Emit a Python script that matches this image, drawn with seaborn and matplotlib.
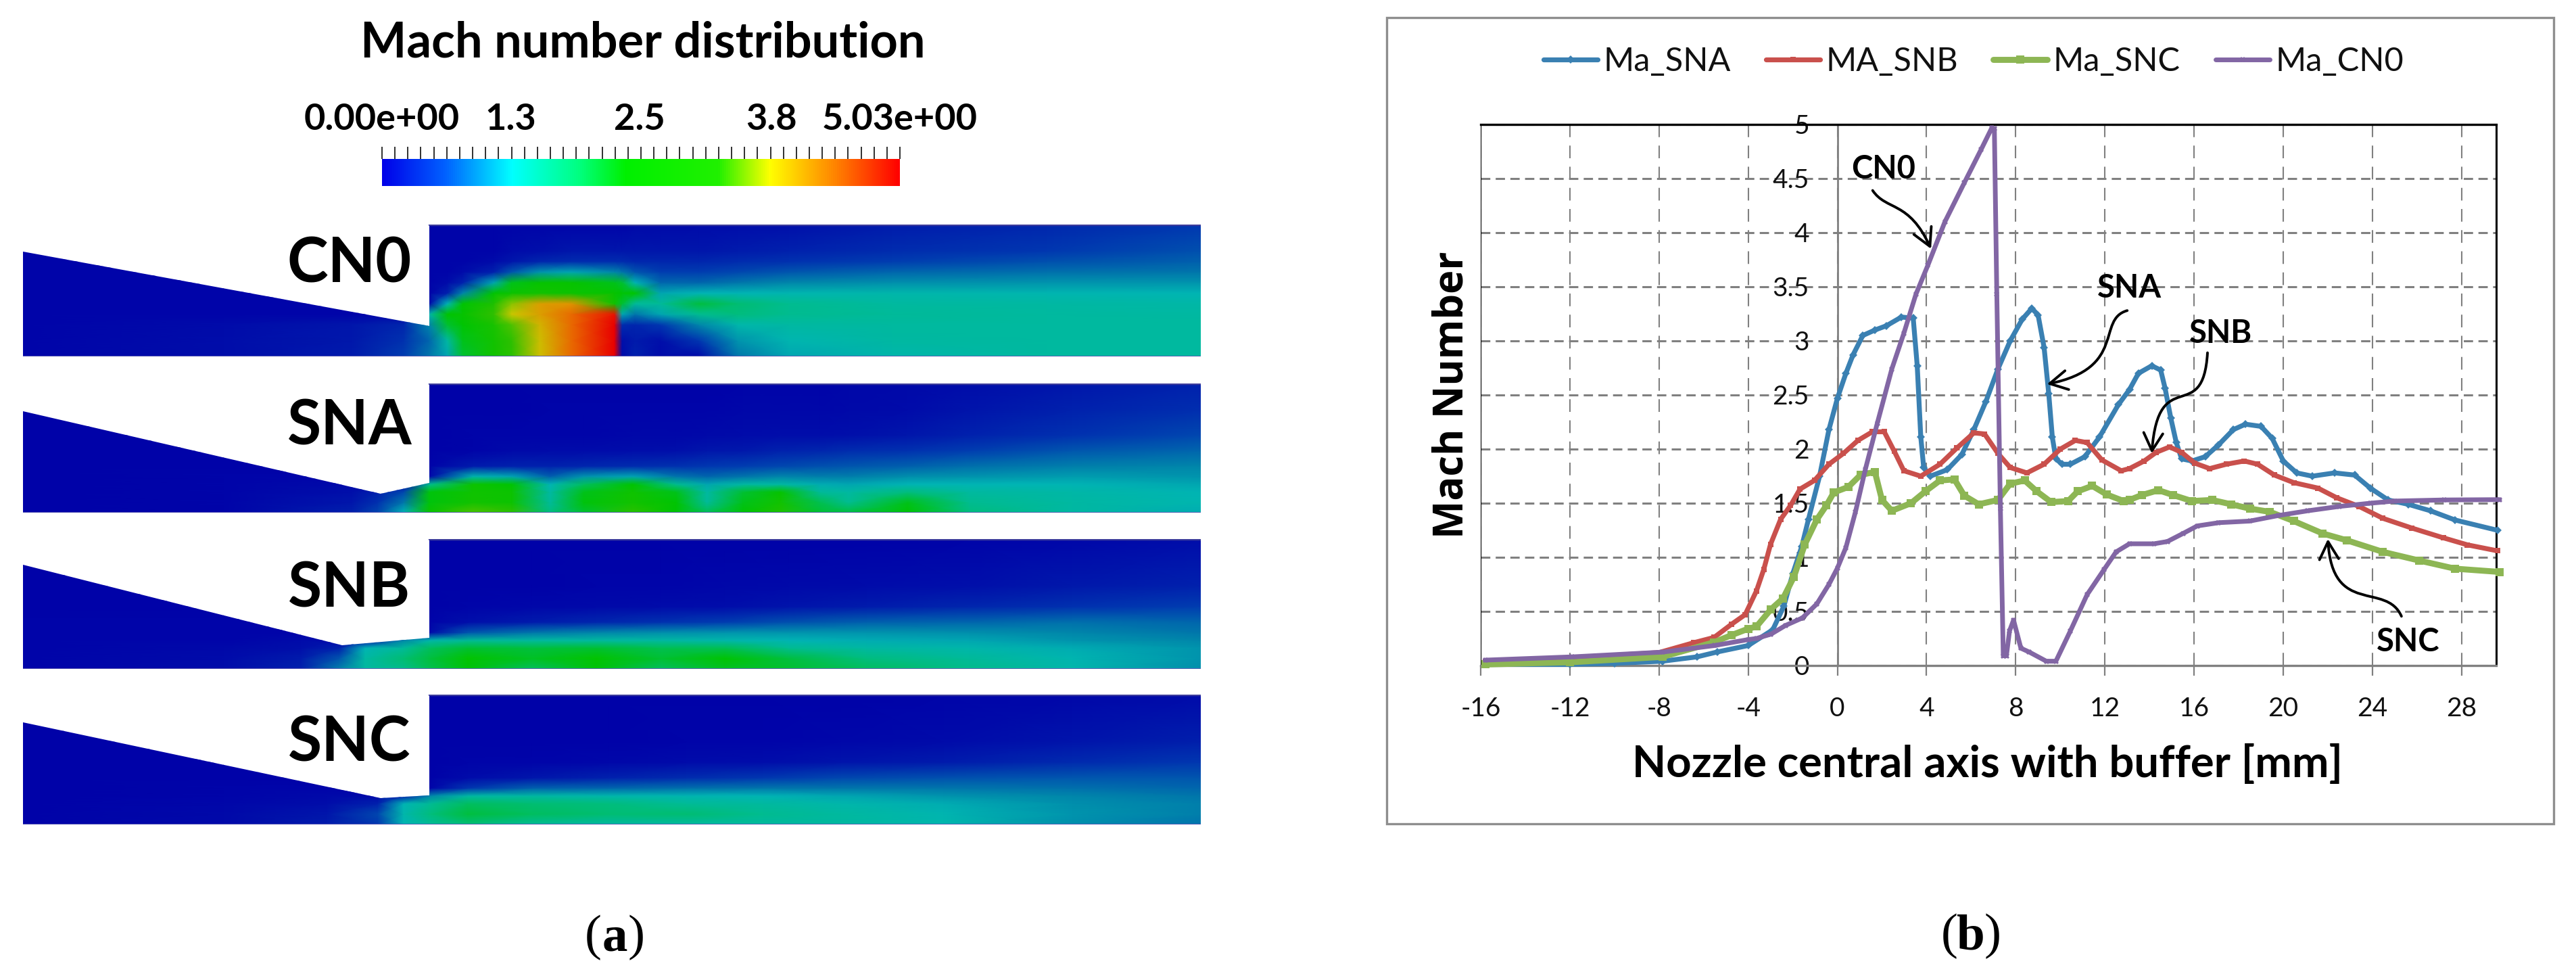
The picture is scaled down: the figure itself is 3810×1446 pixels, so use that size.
#!/usr/bin/env python3
# -*- coding: utf-8 -*-
# Mach number contours (a) and centre line Mach number curves (b)
import numpy as np
import matplotlib
matplotlib.use('Agg')
import matplotlib.pyplot as plt
import seaborn as sns
from matplotlib.colors import LinearSegmentedColormap
from matplotlib.patches import FancyArrowPatch, Polygon, Rectangle
from matplotlib.path import Path

W, H = 3810, 1446

# ---- curves of panel (b)
sna_x = [-15.8, -12, -10, -7.85, -6.3, -5.4, -4, -2.9, -2.4, -2, -1.6, -1.3, -0.8, -0.38, 0, 0.38, 0.7, 1.14, 1.68,
         2.2, 2.87, 3.4, 3.58, 3.74, 3.87, 4.17, 4.93, 5.58, 6.12, 6.66, 7.2, 7.75, 8.29, 8.72, 9, 9.27, 9.48,
         9.64, 9.8, 10.08, 10.45, 11.1, 11.75, 12.6, 13.1, 13.5, 14.1, 14.5, 14.7, 14.95, 15.2, 15.44, 15.9, 16.5,
         17.1, 17.76, 18.3, 19, 19.5, 20, 20.6, 21.3, 22.3, 23.2, 23.9, 24.7, 25.6, 26.6, 27.7, 29.6]
sna_y = [0.01, 0.01, 0.02, 0.04, 0.08, 0.125, 0.185, 0.33, 0.55, 0.85, 1.1, 1.35, 1.75, 2.18, 2.47, 2.7, 2.87, 3.05,
         3.1, 3.14, 3.22, 3.21, 2.77, 2.11, 1.83, 1.75, 1.81, 1.95, 2.18, 2.44, 2.74, 3.0, 3.2, 3.3, 3.24, 2.94, 2.51,
         2.11, 1.91, 1.86, 1.86, 1.93, 2.11, 2.41, 2.55, 2.7, 2.77, 2.73, 2.56, 2.29, 2.06, 1.91, 1.89, 1.93,
         2.04, 2.18, 2.23, 2.21, 2.1, 1.89, 1.78, 1.75, 1.78, 1.76, 1.64, 1.53, 1.49, 1.43, 1.345, 1.25]

snb_x = [-15.8, -12, -8, -6.46, -5.53, -4.76, -4.14, -3.63, -3.3, -3, -2.55, -2.1, -1.68, -1.03, -0.38, 0.27, 0.92,
         1.57, 2.1, 2.55, 2.98, 3.74, 4.6, 5.36, 6.12, 6.6, 7.2, 7.75, 8.5, 9.27, 10, 10.67, 11.2, 11.86, 12.73, 13.1,
         13.76, 14.3, 14.9, 15.44, 16.03, 16.7, 17.44, 18.25, 18.85, 19.6, 20.47, 21.55, 22.4, 23.4, 24.47, 25.77,
         27.18, 28.26, 29.6]
snb_y = [0.04, 0.07, 0.12, 0.21, 0.26, 0.38, 0.47, 0.69, 0.89, 1.12, 1.35, 1.48, 1.63, 1.71, 1.86, 1.96, 2.08,
         2.16, 2.16, 1.98, 1.8, 1.75, 1.86, 2.01, 2.15, 2.14, 1.96, 1.83, 1.78, 1.86, 2.0, 2.08, 2.06, 1.9, 1.8, 1.82,
         1.89, 1.97, 2.02, 1.97, 1.87, 1.82, 1.86, 1.89, 1.86, 1.76, 1.69, 1.64, 1.55, 1.47, 1.36, 1.27,
         1.18, 1.115, 1.06]

snc_x = [-15.8, -12, -7.85, -5.53, -4.76, -4, -3.63, -2.98, -2.44, -1.95, -1.46, -0.92, -0.49, -0.16, 0.49, 1.03,
         1.68, 2, 2.44, 3.3, 3.95, 4.6, 5.25, 5.69, 6.34, 7.2, 7.75, 8.4, 8.94, 9.59, 10.35, 10.78, 11.43, 12.08, 12.84,
         13.1, 13.65, 14.4, 15.06, 15.9, 16.8, 17.66, 18.5, 19.4, 20.47, 21.77, 22.85, 24.47, 26.1, 27.7, 29.7]
snc_y = [0.01, 0.03, 0.08, 0.215, 0.28, 0.34, 0.36, 0.52, 0.62, 0.82, 1.12, 1.35, 1.48, 1.6, 1.65, 1.76,
         1.79, 1.53, 1.43, 1.5, 1.61, 1.71, 1.72, 1.57, 1.49, 1.53, 1.68, 1.71, 1.61, 1.51, 1.52, 1.61, 1.66, 1.58, 1.52,
         1.53, 1.575, 1.62, 1.575, 1.52, 1.53, 1.49, 1.45, 1.42, 1.335, 1.22, 1.157, 1.05, 0.97, 0.895, 0.865]

cn0_x = [-15.8, -11.9, -7.85, -5.5, -4, -3.63, -2.98, -2.33, -1.57, -0.92, -0.38, 0, 0.38, 0.81, 1.25, 1.79, 2.44, 2.98,
         3.52, 4.06, 4.82, 5.69, 6.45, 6.93, 7.04, 7.15, 7.31, 7.44, 7.58, 7.72, 7.9, 8.23, 8.6, 9.37, 9.8, 10.45,
         11.2, 11.97, 12.5, 13.1, 14.2, 14.8, 15.5, 16.14, 17.1, 18.5, 19.8, 21.1, 22.5, 23.9, 25, 27.2, 29.7]
cn0_y = [0.05, 0.08, 0.124, 0.185, 0.24, 0.25, 0.29, 0.37, 0.44, 0.57, 0.75, 0.9, 1.09, 1.42, 1.81, 2.24, 2.74, 3.07,
         3.43, 3.7, 4.1, 4.46, 4.77, 4.97, 4.96, 3.43, 1.45, 0.09, 0.09, 0.32, 0.42, 0.16, 0.125, 0.04, 0.04, 0.32,
         0.655, 0.89, 1.05, 1.125, 1.125, 1.146, 1.22, 1.29, 1.32, 1.335, 1.387, 1.43, 1.47, 1.5, 1.52, 1.53, 1.533]

series_names = ['Ma_SNA', 'MA_SNB', 'Ma_SNC', 'Ma_CN0']
x_ticks = [-16, -12, -8, -4, 0, 4, 8, 12, 16, 20, 24, 28]
y_ticks = [0, 0.5, 1, 1.5, 2, 2.5, 3, 3.5, 4, 4.5, 5]
y_tick_labels = ['0', '0.5', '1', '1.5', '2', '2.5', '3', '3.5', '4', '4.5', '5']

# ---- contour fields of panel (a): axial position [mm], height in the panel, Mach
radius_cn0 = [0, 0.6, 1.2, 1.6, 2, 2.4, 2.8, 3.2, 3.6, 4, 5]
axial_cn0 = [-16, -8, -3, -1, 0, 0.7, 1.3, 2.5, 3.2, 4.3, 5.5, 7.2, 7.5, 8, 9, 10.5, 12, 14, 18, 24, 30]
mach_cn0 = [
    [.05, .12, .25, .55, .9, 1.2, 2.0, 2.5, 2.9, 3.6, 4.3, 4.95, .1, .3, .1, .1, .9, 1.2, 1.4, 1.55, 1.55],
    [.05, .12, .22, .45, .8, 1.5, 2.1, 2.5, 2.95, 3.6, 4.3, 4.9, .15, .25, .15, .5, 1.1, 1.35, 1.5, 1.55, 1.55],
    [.05, .1, .2, .35, 1.0, 2.0, 2.2, 2.6, 3.1, 3.7, 4.3, 4.8, .4, .35, .5, 1.0, 1.4, 1.5, 1.55, 1.55, 1.55],
    [.05, .05, .05, .05, 1.4, 2.2, 2.3, 3.0, 3.5, 3.9, 4.3, 4.7, 1.2, .9, 1.2, 1.7, 1.75, 1.7, 1.6, 1.55, 1.5],
    [.05, .05, .05, .05, .1, 1.3, 2.2, 2.7, 3.3, 3.9, 4.0, 2.5, 2.0, 1.6, 1.6, 1.95, 1.8, 1.7, 1.55, 1.5, 1.45],
    [.05, .05, .05, .05, .05, .3, 1.0, 2.2, 2.4, 2.5, 2.4, 2.3, 2.2, 2.2, 1.2, 1.3, 1.3, 1.35, 1.4, 1.35, 1.3],
    [.05, .05, .05, .05, .05, .1, .3, 1.2, 2.1, 2.3, 2.3, 2.1, 2.0, 1.3, .8, .8, .9, 1.0, 1.05, 1.1, 1.1],
    [.05, .05, .05, .05, .05, .05, .1, .3, .7, 1.1, 1.2, 1.0, .9, .7, .55, .55, .6, .7, .8, .85, .9],
    [.05, .05, .05, .05, .05, .05, .05, .1, .2, .35, .4, .4, .4, .35, .35, .35, .4, .45, .55, .65, .75],
    [.05, .05, .05, .05, .05, .05, .05, .05, .1, .15, .2, .2, .2, .2, .2, .2, .25, .3, .4, .5, .65],
    [.05, .05, .05, .05, .05, .05, .05, .05, .05, .05, .05, .05, .05, .08, .08, .1, .12, .15, .25, .35, .5],
]

radius_sna = [0, 0.4, 0.8, 1.1, 1.4, 1.8, 2.4, 3, 4, 5]
axial_sna = [-16, -8, -3, -2, -1, 0, 1.7, 3.2, 4.7, 6, 7.9, 9.6, 10.8, 12.2, 13.65, 15.2, 16.3, 18.6, 21, 25, 30]
mach_sna = [
    [.02, .05, .3, .6, 1.3, 2.4, 3.1, 3.0, 1.75, 2.0, 2.9, 2.2, 1.9, 2.2, 2.7, 2.0, 1.95, 2.2, 1.75, 1.5, 1.25],
    [.02, .05, .2, .45, .9, 2.15, 2.5, 2.4, 1.6, 2.15, 2.5, 2.2, 1.6, 2.1, 2.5, 1.9, 1.7, 2.1, 1.7, 1.5, 1.35],
    [.02, .05, .15, .3, .6, 2.15, 2.45, 2.4, 1.5, 2.1, 2.45, 2.1, 1.5, 2.0, 2.3, 1.6, 1.5, 1.75, 1.55, 1.45, 1.3],
    [.02, .05, .1, .1, .1, 1.7, 2.4, 2.2, 1.3, 1.85, 2.2, 1.7, 1.2, 1.5, 1.5, 1.25, 1.2, 1.3, 1.3, 1.3, 1.2],
    [.02, .05, .05, .05, .05, .1, 1.4, 1.2, .75, 1.1, 1.2, .9, .8, .9, 1.0, .95, .95, 1.05, 1.1, 1.15, 1.1],
    [.02, .03, .03, .03, .03, .05, .25, .3, .3, .35, .4, .45, .5, .55, .6, .65, .7, .75, .85, .95, 1.0],
    [.02, .03, .03, .03, .03, .03, .05, .08, .1, .1, .12, .15, .2, .22, .3, .35, .4, .45, .55, .7, .8],
    [.02, .03, .03, .03, .03, .03, .04, .05, .05, .05, .06, .07, .08, .1, .12, .13, .15, .2, .3, .45, .6],
    [.02, .03, .03, .03, .03, .03, .03, .03, .04, .04, .04, .05, .05, .06, .07, .07, .08, .1, .18, .3, .42],
    [.02, .03, .03, .03, .03, .03, .03, .03, .03, .03, .03, .03, .03, .04, .05, .05, .06, .08, .12, .2, .3],
]

radius_snb = [0, 0.4, 0.8, 1.1, 1.4, 1.8, 2.4, 3.2, 5]
axial_snb = [-16, -8, -5, -3.5, -2.5, -1, 0, 1.5, 4, 6.5, 9, 11.5, 14, 17, 21, 25, 30]
mach_snb = [
    [.05, .12, .3, .95, 1.5, 1.72, 1.9, 2.15, 1.85, 2.15, 1.85, 2.05, 2.0, 1.85, 1.72, 1.4, 1.05],
    [.05, .1, .25, .7, 1.5, 1.8, 1.95, 2.25, 2.05, 2.25, 2.0, 2.2, 1.95, 1.75, 1.6, 1.35, 1.1],
    [.05, .08, .15, .3, 1.3, 1.6, 1.85, 2.0, 1.95, 2.0, 1.9, 1.9, 1.7, 1.5, 1.4, 1.25, 1.1],
    [.05, .05, .1, .1, .1, 1.0, 1.4, 1.65, 1.55, 1.55, 1.5, 1.4, 1.3, 1.25, 1.2, 1.1, 1.0],
    [.05, .05, .05, .05, .05, .05, .1, .7, .9, 1.0, 1.05, 1.1, 1.1, 1.1, 1.05, 1.0, .9],
    [.05, .05, .05, .05, .05, .05, .05, .15, .25, .35, .45, .55, .65, .75, .8, .85, .8],
    [.03, .03, .03, .03, .03, .03, .03, .05, .06, .08, .1, .13, .18, .25, .35, .45, .55],
    [.03, .03, .03, .03, .03, .03, .03, .03, .03, .04, .05, .06, .08, .1, .15, .22, .3],
    [.03, .03, .03, .03, .03, .03, .03, .03, .03, .03, .03, .03, .03, .03, .04, .06, .12],
]

radius_snc = [0, 0.4, 0.8, 1.1, 1.4, 1.8, 2.4, 3.2, 5]
axial_snc = [-16, -8, -4, -2, -1, 0, 1.5, 4, 7, 10, 13, 16, 20, 25, 30]
mach_snc = [
    [.03, .08, .25, .5, 1.3, 1.6, 1.78, 1.65, 1.5, 1.55, 1.55, 1.52, 1.38, 1.05, .87],
    [.03, .08, .2, .6, 1.4, 1.75, 1.95, 1.85, 1.8, 1.8, 1.7, 1.55, 1.35, 1.1, .95],
    [.03, .06, .12, .3, 1.3, 1.65, 1.85, 1.8, 1.75, 1.65, 1.55, 1.4, 1.25, 1.05, .95],
    [.03, .05, .08, .1, .3, 1.0, 1.5, 1.5, 1.4, 1.35, 1.3, 1.2, 1.1, 1.0, .9],
    [.03, .04, .04, .04, .04, .05, .5, .75, .8, .85, .9, .9, .9, .85, .8],
    [.03, .03, .03, .03, .03, .03, .1, .2, .3, .4, .5, .6, .65, .7, .7],
    [.03, .03, .03, .03, .03, .03, .04, .05, .07, .1, .13, .18, .25, .38, .5],
    [.03, .03, .03, .03, .03, .03, .03, .03, .03, .04, .05, .07, .1, .18, .28],
    [.03, .03, .03, .03, .03, .03, .03, .03, .03, .03, .03, .03, .04, .06, .1],
]

bar_labels = ['0.00e+00', '1.3', '2.5', '3.8', '5.03e+00']
bar_values = [0, 1.25, 2.5, 3.78, 5.03]

sns.set_style('white')
plt.rcParams['font.family'] = ['Lato', 'DejaVu Sans']

fig = plt.figure(figsize=(W / 100, H / 100), dpi=100)


def px_axes(left, top, right, bottom):
    return fig.add_axes([left / W, 1 - bottom / H, (right - left) / W, (bottom - top) / H])


def px_text(x, y, s, **kw):
    kw.setdefault('ha', 'center')
    kw.setdefault('va', 'center')
    return fig.text(x / W, 1 - y / H, s, **kw)


# colours of the contour fields are duller than the legend bar
field_cmap = LinearSegmentedColormap.from_list('field', [
    (0 / 5.03, '#0000a8'), (0.5 / 5.03, '#0038b0'), (1.0 / 5.03, '#0088aa'), (1.3 / 5.03, '#00b4b4'),
    (1.7 / 5.03, '#00bc90'), (2.0 / 5.03, '#00c030'), (2.2 / 5.03, '#00c400'), (3.0 / 5.03, '#30c000'),
    (3.5 / 5.03, '#c8c800'), (4.2 / 5.03, '#e88000'), (4.8 / 5.03, '#e80000'), (1, '#e80000')])
bar_cmap = LinearSegmentedColormap.from_list('bar', [
    (0, '#0000e8'), (0.12, '#0060ff'), (0.25, '#00ffff'), (0.38, '#00ff80'), (0.47, '#00f000'), (0.65, '#20f000'),
    (0.75, '#ffff00'), (0.88, '#ff8000'), (1, '#ff0000')])


def draw_field(ax, axial, radius, mach, wall, name, label_y):
    ax.set_xlim(-15.8, 30)
    ax.set_ylim(0, 5)
    outline = [(-15.8, 0)] + wall + [(0, 5), (30, 5), (30, 0)]
    mesh = ax.pcolormesh(axial, radius, np.array(mach), shading='gouraud', cmap=field_cmap, vmin=0, vmax=5.03,
                         rasterized=True)
    patch = Polygon(outline, closed=True, transform=ax.transData, fill=False, edgecolor='none')
    ax.add_patch(patch)
    mesh.set_clip_path(patch)
    ax.plot([0, 30], [5, 5], color='#3c3c9c', lw=2.5)
    ax.plot([-15.8, 30], [0, 0], color='#5a5ab4', lw=2)
    ax.axis('off')
    px_text(517, label_y, name, fontsize=66, fontweight='bold', color='black')


walls = {
    'CN0': [(-15.8, 3.97), (0, 1.15)],
    'SNA': [(-15.8, 3.92), (-1.9, 0.74), (0, 1.15)],
    'SNB': [(-15.8, 4.0), (-3.4, 0.9), (0, 1.2)],
    'SNC': [(-15.8, 3.94), (-1.9, 1.02), (0, 1.13)],
}
draw_field(px_axes(34, 332, 1776, 527), axial_cn0, radius_cn0, mach_cn0, walls['CN0'], 'CN0', 392)
draw_field(px_axes(34, 567, 1776, 758), axial_sna, radius_sna, mach_sna, walls['SNA'], 'SNA', 632)
draw_field(px_axes(34, 797, 1776, 989), axial_snb, radius_snb, mach_snb, walls['SNB'], 'SNB', 871)
draw_field(px_axes(34, 1027, 1776, 1219), axial_snc, radius_snc, mach_snc, walls['SNC'], 'SNC', 1100)

# legend bar of the contours
bar_ax = px_axes(565, 235, 1331, 275)
sns.heatmap(np.linspace(0, 5.03, 256)[None, :], ax=bar_ax, cmap=bar_cmap, vmin=0, vmax=5.03, cbar=False,
            xticklabels=False, yticklabels=False)
bar_ax.set_xlim(0, 256)
bar_ax.xaxis.tick_top()
bar_ax.set_xticks(np.linspace(0, 256, 41), [''] * 41)
bar_ax.tick_params(axis='x', which='major', length=13, width=1.4, color='#303030', direction='out', top=True,
                   bottom=False)
bar_ax.set_xticks(np.linspace(0, 256, 5)[1:4], minor=True)
bar_ax.tick_params(axis='x', which='minor', length=10, width=1.4, color='#303030', direction='in', top=True,
                   bottom=False)
for name, val in zip(bar_labels, bar_values):
    px_text(565 + val / 5.03 * 766, 177, name, fontsize=39, fontweight='bold', color='black')
px_text(951, 64, 'Mach number distribution', fontsize=52, fontweight='bold', color='black')

# ---- panel (b)
fig.add_artist(Rectangle((2051 / W, 1 - 1218 / H), (3777 - 2051) / W, (1218 - 26) / H, transform=fig.transFigure,
                         fill=False, edgecolor='#8e8e8e', lw=2.4))

ax = px_axes(2190, 184, 3692, 984)
# spine position resets the ticks, so it comes before the tick labels
ax.spines['left'].set_position(('data', 0))
colors = ['#3a80b2', '#c9504c', '#8db654', '#8266a4']
markers = ['D', 's', 's', 'X']
sizes = [6, 6, 8, 6]
widths = [5.2, 5.2, 6.4, 5.0]
curves = [(sna_x, sna_y), (snb_x, snb_y), (snc_x, snc_y), (cn0_x, cn0_y)]
for (cx, cy), name, col, mk, ms, lw in zip(curves, series_names, colors, markers, sizes, widths):
    sns.lineplot(x=cx, y=cy, ax=ax, color=col, lw=lw, marker=mk, markersize=ms, markeredgewidth=0, sort=False,
                 estimator=None, label=name, clip_on=False, zorder=3)

ax.set_xlim(-16, 29.55)
ax.set_ylim(0, 5)
ax.set_xticks(x_ticks)
ax.set_xticklabels([str(t) for t in x_ticks], fontsize=28, color='#111111')
ax.set_yticks(y_ticks)
ax.set_yticklabels(y_tick_labels, fontsize=28, color='#111111')
ax.tick_params(axis='x', length=11, width=1.6, color='#808080', pad=22, bottom=True)
ax.tick_params(axis='y', length=0, pad=30, left=True)
ax.xaxis.grid(True, color='#808080', lw=1.5, ls=(0, (9, 6)), zorder=1)
ax.yaxis.grid(True, color='#808080', lw=2.2, ls=(0, (4.5, 2.6)), zorder=1)
ax.set_axisbelow(True)
ax.spines['left'].set_color('#808080')
ax.spines['left'].set_linewidth(2)
ax.spines['bottom'].set_color('#808080')
ax.spines['bottom'].set_linewidth(2.4)
ax.spines['top'].set_color('black')
ax.spines['top'].set_linewidth(2.4)
ax.spines['right'].set_color('black')
ax.spines['right'].set_linewidth(2.2)
ax.axvline(-16, color='black', lw=1.6, zorder=2)

px_text(2940, 1130, 'Nozzle central axis with buffer [mm]', fontsize=47, fontweight='bold', color='black')
px_text(2148, 584, 'Mach Number', fontsize=43, fontweight='bold', color='black', rotation=90,
        family=['Open Sans', 'DejaVu Sans'])

handles, labels = ax.get_legend_handles_labels()
ax.get_legend().remove()
fig.legend(handles, labels, loc='center', bbox_to_anchor=(2919 / W, 1 - 91 / H), ncol=4, frameon=False, fontsize=35,
           handlelength=1.65, handletextpad=0.17, columnspacing=1.07, labelcolor='#111111')

# hand drawn arrows with their labels
arrow_paths = [
    ([(1.58, 4.39), (2.2, 4.2), (3.2, 4.3), (4.2, 3.85)], (2.06, 4.59), 'CN0'),
    ([(13.0, 3.28), (11.6, 3.2), (13.0, 2.75), (9.4, 2.6)], (13.1, 3.49), 'SNA'),
    ([(16.6, 2.89), (16.4, 2.2), (14.4, 2.8), (14.1, 1.96)], (17.2, 3.07), 'SNB'),
    ([(25.3, 0.455), (24.6, 0.78), (22.2, 0.45), (22.0, 1.17)], (25.6, 0.22), 'SNC'),
]
for pts, text_pos, name in arrow_paths:
    path = Path(pts, [Path.MOVETO, Path.CURVE4, Path.CURVE4, Path.CURVE4])
    ax.add_patch(FancyArrowPatch(path=path, arrowstyle='->,head_length=0.55,head_width=0.3', mutation_scale=34,
                                 lw=2.8, color='black', transform=ax.transData, zorder=5, shrinkA=0, shrinkB=0))
    ax.text(text_pos[0], text_pos[1], name, fontsize=34, fontweight='bold', color='black', ha='center', va='center',
            zorder=6)

# sub figure captions, only the letter is bold
serif = ['Liberation Serif', 'DejaVu Serif']
for cx, cy, letter in [(909, 1388, 'a'), (2915, 1386, 'b')]:
    px_text(cx - 32, cy - 2, '(', fontsize=54, family=serif, color='black')
    px_text(cx, cy, letter, fontsize=54, family=serif, fontweight='bold', color='black')
    px_text(cx + 32, cy - 2, ')', fontsize=54, family=serif, color='black')

fig.savefig('out.png', dpi=100)
